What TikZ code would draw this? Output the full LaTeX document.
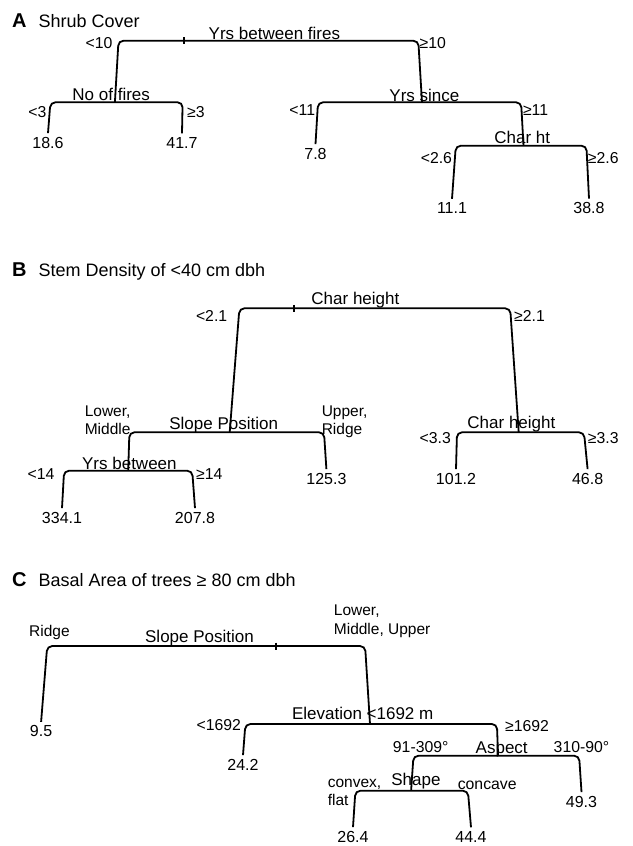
\documentclass[tikz,border=0pt]{standalone}
\usepackage{fontspec}
\setmainfont{Liberation Sans}

\tikzset{
    branch/.style={black,line width=1.8pt,rounded corners=5pt},
    split/.style={anchor=base,inner sep=0pt,font=\fontsize{17}{17}\selectfont},
    side/.style={anchor=base,inner sep=0pt,font=\fontsize{15.8}{15.8}\selectfont},
    sidel/.style={side,anchor=base west,font=\fontsize{15.5}{15.5}\selectfont},
    leaf/.style={anchor=base,inner sep=3.5pt,font=\fontsize{16}{16}\selectfont},
    panel/.style={anchor=base west,inner sep=0pt,font=\fontsize{18}{18}\selectfont}
}
\newcommand{\panelmark}[1]{{\fontsize{20}{20}\selectfont\bfseries #1}\hspace{12pt}}

\begin{document}
\begin{tikzpicture}[x=1pt,y=-1pt]
        \useasboundingbox (0,0) rectangle (632,846);

        \node[panel] (titleA) at (12,27) {\panelmark{A}Shrub Cover};

        \coordinate (aRootL) at (118.5,40.7);
        \coordinate (aRootR) at (418.3,40.7);
        \coordinate (aTick) at (183.8,40.7);
        \coordinate (aNo) at (114.9,102.3);
        \coordinate (aNoL) at (50.4,102.3);
        \coordinate (aNoR) at (182.6,102.3);
        \coordinate (aYs) at (422,102.3);
        \coordinate (aYsL) at (318,102.3);
        \coordinate (aYsR) at (521.1,102.3);
        \coordinate (aCh) at (523.5,145.7);
        \coordinate (aChL) at (455.8,145.7);
        \coordinate (aChR) at (586.4,145.7);

        \node[leaf] (a186) at (48,148) {18.6};
        \node[leaf] (a417) at (182,148) {41.7};
        \node[leaf] (a78) at (315.5,159) {7.8};
        \node[leaf] (a111) at (452,213.5) {11.1};
        \node[leaf] (a388) at (589,213.5) {38.8};

        \draw[branch] (aNo) -- (aRootL) -- (aRootR) -- (aYs);
        \draw[branch] (a186.north) -- (aNoL) -- (aNoR) -- (a417.north);
        \draw[branch] (a78.north) -- (aYsL) -- (aYsR) -- (aCh);
        \draw[branch] (a111.north) -- (aChL) -- (aChR) -- (a388.north);
        \draw[branch] ([yshift=3.5pt]aTick) -- ([yshift=-3.5pt]aTick);

        \node[split] (aYrsFires) at (274.4,39) {Yrs between fires};
        \node[side] (aLt10) at (99,48) {<10};
        \node[side] (aGe10) at (432.8,48) {≥10};
        \node[split] (aNoFires) at (111.2,100) {No of fires};
        \node[side] (aLt3) at (37.5,117) {<3};
        \node[side] (aGe3) at (195.9,117) {≥3};
        \node[split] (aYrsSince) at (424.4,101) {Yrs since};
        \node[side] (aLt11) at (302.3,115) {<11};
        \node[side] (aGe11) at (535.6,115) {≥11};
        \node[split] (aCharHt) at (522.3,143) {Char ht};
        \node[side] (aLt26) at (436.4,163) {<2.6};
        \node[side] (aGe26) at (603.3,163) {≥2.6};

        \node[panel] (titleB) at (12,276) {\panelmark{B}Stem Density of <40 cm dbh};

        \coordinate (bRootL) at (239.4,308.3);
        \coordinate (bRootR) at (510.2,308.3);
        \coordinate (bTick) at (293.8,308.3);
        \coordinate (bSp) at (229.7,432.3);
        \coordinate (bSpL) at (129.4,432.3);
        \coordinate (bSpR) at (324,432.3);
        \coordinate (bCh) at (518.7,432.3);
        \coordinate (bChL) at (457,432.3);
        \coordinate (bChR) at (584,432.3);
        \coordinate (bYb) at (128.2,470.7);
        \coordinate (bYbL) at (64.1,470.7);
        \coordinate (bYbR) at (192.2,470.7);

        \node[leaf] (b3341) at (62,523) {334.1};
        \node[leaf] (b2078) at (195,523) {207.8};
        \node[leaf] (b1253) at (326.4,484) {125.3};
        \node[leaf] (b1012) at (456,484) {101.2};
        \node[leaf] (b468) at (587.6,484) {46.8};

        \draw[branch] (bSp) -- (bRootL) -- (bRootR) -- (bCh);
        \draw[branch] (bYb) -- (bSpL) -- (bSpR) -- (b1253.north);
        \draw[branch] (b3341.north) -- (bYbL) -- (bYbR) -- (b2078.north);
        \draw[branch] (b1012.north) -- (bChL) -- (bChR) -- (b468.north);
        \draw[branch] ([yshift=3.5pt]bTick) -- ([yshift=-3.5pt]bTick);

        \node[split] (bCharHt) at (355.4,304) {Char height};
        \node[side] (bLt21) at (211.6,321) {<2.1};
        \node[side] (bGe21) at (529.5,321) {≥2.1};
        \node[split] (bSlope) at (223.7,429.3) {Slope Position};
        \node[sidel] (bLower) at (84.6,416.7) {Lower,};
        \node[sidel] (bMiddle) at (84.6,434) {Middle};
        \node[sidel] (bUpper) at (321.6,416.7) {Upper,};
        \node[sidel] (bRidge) at (321.6,434) {Ridge};
        \node[split] (bYrsBetween) at (129.4,469) {Yrs between};
        \node[side] (bLt14) at (41.1,479) {<14};
        \node[side] (bGe14) at (209.2,479) {≥14};
        \node[split] (bCharHt2) at (511.4,428) {Char height};
        \node[side] (bLt33) at (435.2,443) {<3.3};
        \node[side] (bGe33) at (603.3,443) {≥3.3};

        \node[panel] (titleC) at (12,586.7) {\panelmark{C}Basal Area of trees ≥ 80 cm dbh};

        \coordinate (cRootL) at (47.2,646);
        \coordinate (cRootR) at (365.1,646);
        \coordinate (cTick) at (275.7,646);
        \coordinate (cEl) at (370,724);
        \coordinate (cElL) at (245.4,724);
        \coordinate (cElR) at (496.9,724);
        \coordinate (cAs) at (498.1,755.7);
        \coordinate (cAsL) at (413.5,755.7);
        \coordinate (cAsR) at (579.1,755.7);
        \coordinate (cSh) at (411.1,790.7);
        \coordinate (cShL) at (355.4,790.7);
        \coordinate (cShR) at (467.9,790.7);

        \node[leaf] (c95) at (41.1,736.7) {9.5};
        \node[leaf] (c242) at (243,770) {24.2};
        \node[leaf] (c493) at (581.5,807) {49.3};
        \node[leaf] (c264) at (353,842) {26.4};
        \node[leaf] (c444) at (471,842) {44.4};

        \draw[branch] (c95.north) -- (cRootL) -- (cRootR) -- (cEl);
        \draw[branch] (c242.north) -- (cElL) -- (cElR) -- (cAs);
        \draw[branch] (cSh) -- (cAsL) -- (cAsR) -- (c493.north);
        \draw[branch] (c264.north) -- (cShL) -- (cShR) -- (c444.north);
        \draw[branch] ([yshift=3.5pt]cTick) -- ([yshift=-3.5pt]cTick);

        \node[split] (cSlope) at (199.5,642.7) {Slope Position};
        \node[sidel] (cRidge) at (29,636) {Ridge};
        \node[sidel] (cLower) at (333.7,615.7) {Lower,};
        \node[sidel] (cMidUp) at (333.7,634) {Middle, Upper};
        \node[split] (cElev) at (362.7,719.3) {Elevation <1692 m};
        \node[side] (cLt1692) at (218.8,730.7) {<1692};
        \node[side] (cGe1692) at (527.1,731) {≥1692};
        \node[split] (cAspect) at (501.7,753) {Aspect};
        \node[side] (cAsp1) at (420.7,752) {91-309°};
        \node[side] (cAsp2) at (581.5,752) {310-90°};
        \node[split] (cShape) at (415.9,785) {Shape};
        \node[sidel] (cConvex) at (327.6,787) {convex,};
        \node[sidel] (cFlat) at (327.6,805) {flat};
        \node[side] (cConcave) at (487.2,789) {concave};
\end{tikzpicture}
\end{document}
